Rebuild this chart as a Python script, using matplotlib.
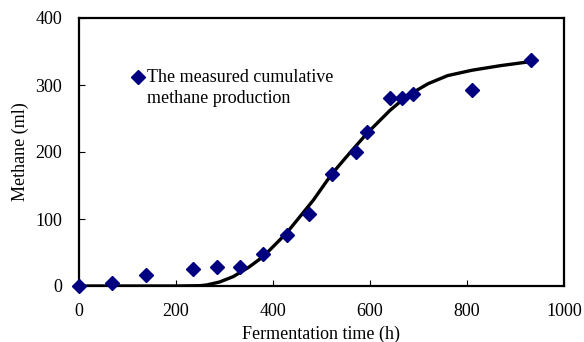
import matplotlib
matplotlib.use("Agg")
import matplotlib.pyplot as plt
from matplotlib.legend_handler import HandlerLine2D

# measured data
time_h = [0, 69, 138, 236, 284, 332, 380, 428, 475, 521, 571, 594, 641, 667, 689, 810, 932]
methane_ml = [0, 4, 16, 25, 29, 29, 48, 76, 108, 167, 200, 230, 281, 281, 287, 293, 337]

# fitted curve
fit_t = [0, 100, 200, 250, 263, 290, 318, 350, 380, 428, 483, 521, 560, 594, 641, 667, 689, 720, 760, 810, 870, 932]
fit_y = [0, 0, 0, 0.5, 1.5, 6, 14, 28, 44, 79, 128, 167, 200, 228, 262, 278, 289, 302, 314, 322, 329, 335]

x_ticks = [0, 200, 400, 600, 800, 1000]
y_ticks = [0, 100, 200, 300, 400]

plt.rcParams['font.family'] = ['Liberation Serif', 'DejaVu Serif']
fs = 13


class TopHandler(HandlerLine2D):
    def create_artists(self, legend, orig_handle, xdescent, ydescent,
                       width, height, fontsize, trans):
        return super().create_artists(legend, orig_handle, xdescent,
                                      ydescent - 1.3 * fontsize, width, height,
                                      fontsize, trans)


fig = plt.figure(figsize=(5.84, 3.42), dpi=100)
ax = fig.add_axes([79/584, 1-286/342, (564-79)/584, (286-18)/342])

ax.plot(fit_t, fit_y, color='black', lw=2.4, solid_capstyle='round', zorder=2)
pts, = ax.plot(time_h, methane_ml, linestyle='none', marker='D', markersize=6.8,
               color='#000080', clip_on=False, zorder=3,
               label='The measured cumulative\nmethane production')

ax.set_xlim(0, 1000)
ax.set_ylim(0, 400)
ax.set_xticks(x_ticks)
ax.set_yticks(y_ticks)
ax.tick_params(direction='in', length=4, width=0.8, labelsize=fs)
ax.tick_params(axis='x', pad=12)
ax.tick_params(axis='y', pad=12)
for s in ax.spines.values():
    s.set_linewidth(1.6)

ax.set_xlabel('Fermentation time (h)', fontsize=fs, labelpad=4)
ax.set_ylabel('Methane (ml)', fontsize=fs, labelpad=5)

leg = ax.legend(handler_map={pts: TopHandler()}, loc='upper left',
                bbox_to_anchor=(0.108, 0.81), frameon=False,
                fontsize=fs, handletextpad=0.15, handlelength=0.7,
                borderaxespad=0, borderpad=0)
for t in leg.get_texts():
    t.set_linespacing(1.35)

fig.savefig('out.png', dpi=100)
